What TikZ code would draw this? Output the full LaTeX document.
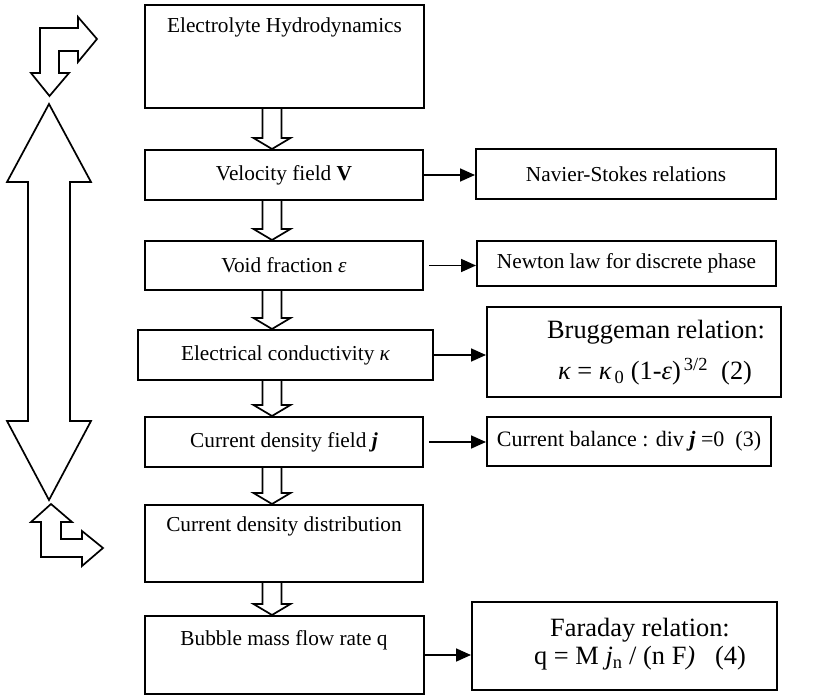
\documentclass[tikz,border=0pt]{standalone}
\usepackage{fontspec}
\setmainfont{Liberation Serif}
\usetikzlibrary{arrows.meta,calc}
\newcommand\hollowarrow[2]{%
  \draw[hol] ($(ax |- #1.south)+(-9.5,0)$) -- ($(ax |- #2.north)+(-9.5,-11)$) -- ++(-9,0)
    -- (ax |- #2.north) -- ($(ax |- #2.north)+(18.5,-11)$) -- ++(-9,0)
    -- ($(ax |- #1.south)+(9.5,0)$);}
\begin{document}
\begin{tikzpicture}[x=1pt,y=-1pt,
  box/.style={draw,line width=2pt,inner sep=0pt,minimum width=278pt,font=\fontsize{21.3}{25}\selectfont},
  txt/.style={font=\fontsize{21.3}{25}\selectfont,inner sep=0pt},
  bigtxt/.style={font=\fontsize{26.4}{30}\selectfont,inner sep=0pt},
  hol/.style={line width=1.7pt,line join=miter},
  conn/.style={line width=1.7pt,-{Triangle[length=15pt,width=13pt]}},
]
\useasboundingbox (0,0) rectangle (833,696);
\coordinate (ax) at (272,0);

% main column
\node[box,minimum width=279pt,minimum height=103pt] (b1) at (284.5,56.5) {};
\node[txt] (t1) at (284.5,27) {Electrolyte Hydrodynamics};
\node[box,minimum height=50pt] (b2) at (284,175) {Velocity field \textbf{V}};
\node[box,minimum height=49pt] (b3) at (284,265.5) {Void fraction {\itshape ε}};
\node[box,minimum width=295pt,minimum height=50pt] (b4) at (285.5,355) {Electrical conductivity {\itshape κ}};
\node[box,minimum height=50pt] (b5) at (284,442) {Current density field \textbf{\textit{j}}};
\node[box,minimum height=77pt] (b6) at (284,543.5) {};
\node[txt] (t6) at (284,526) {Current density distribution};
\node[box,minimum width=279pt,minimum height=78pt] (b7) at (284.5,655) {};
\node[txt] (t7) at (284,640) {Bubble mass flow rate q};

% right column
\node[box,minimum width=300pt,minimum height=50pt] (r1) at (626,174) {Navier-Stokes relations};
\node[box,minimum width=299pt,minimum height=45pt] (r2) at (626.5,263.5) {Newton law for discrete phase};
\node[box,minimum width=294pt,minimum height=90pt] (r3) at (634,352) {};
\node[bigtxt] (r3a) at (656,332) {Bruggeman relation:};
\node[bigtxt] (r3b) at (655,372) {{\itshape κ} = {\itshape κ}\textsubscript{\,0} (1-{\itshape ε})\textsuperscript{\,3/2}~~(2)};
\node[box,minimum width=284pt,minimum height=49pt,font=\fontsize{22}{26}\selectfont] (r4) at (629,441.5) {Current balance : div \textbf{\textit{j}} =0~~(3)};
\node[box,minimum width=305pt,minimum height=88pt] (r5) at (624.5,646) {};
\node[bigtxt] (r5a) at (640,630) {Faraday relation:};
\node[bigtxt] (r5b) at (640,658) {q = M {\itshape j}\textsubscript{n} / (n F{\itshape )}~~~(4)};

% hollow arrows
\hollowarrow{b1}{b2}
\hollowarrow{b2}{b3}
\hollowarrow{b3}{b4}
\hollowarrow{b4}{b5}
\hollowarrow{b5}{b6}
\hollowarrow{b6}{b7}

% connectors
\draw[conn] (b2.east) -- (b2.east -| r1.west);
\draw[conn] ([xshift=5pt]b3.east) -- (b3.east -| r2.west);
\draw[conn] (b4.east) -- (b4.east -| r3.west);
\draw[conn] ([xshift=5pt]b5.east) -- (b5.east -| r4.west);
\draw[conn] (b7.east) -- (b7.east -| r5.west);

% left shapes
\draw[hol] (40,73) -- (40,28) -- (78,28) -- (78,17) -- (97,39) -- (78,62) -- (78,51)
  -- (59,51) -- (59,73) -- (69,73) -- (49.5,96) -- (31,73) -- cycle;
\draw[hol] (49,104) -- (91,182) -- (70,182) -- (70,421) -- (91,421) -- (49,500)
  -- (7,421) -- (28,421) -- (28,182) -- (7,182) -- cycle;
\draw[hol] (51,504) -- (72,522) -- (61,522) -- (61,539) -- (82,539) -- (82,531)
  -- (103,548) -- (82,566) -- (82,557) -- (41,557) -- (41,522) -- (31,522) -- cycle;
\end{tikzpicture}
\end{document}
